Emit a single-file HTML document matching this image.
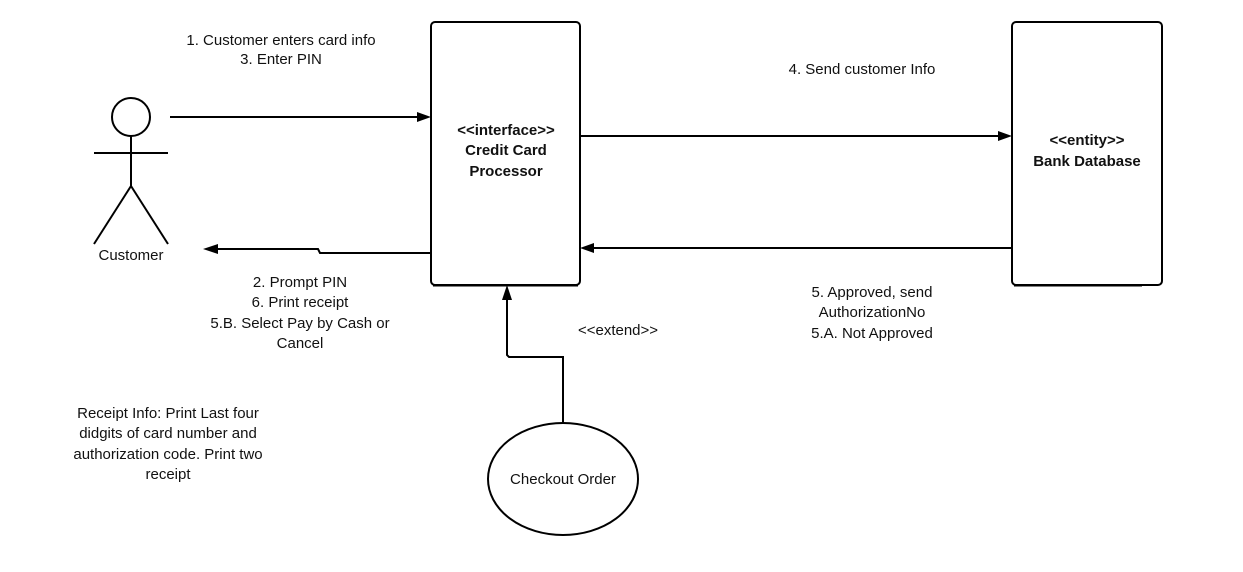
<!DOCTYPE html>
<html><head><meta charset="utf-8"><style>
body{margin:0;background:#fff}
svg text{font-family:"Liberation Sans",sans-serif;font-size:15px;fill:#111}
.b{font-weight:bold}
</style></head><body>
<svg width="1243" height="567" viewBox="0 0 1243 567" xmlns="http://www.w3.org/2000/svg">
<g fill="none" stroke="#000" stroke-width="2">
<circle cx="131" cy="117" r="19"/>
<line x1="131" y1="136" x2="131" y2="186"/>
<line x1="94" y1="153" x2="168" y2="153"/>
<line x1="131" y1="186" x2="94" y2="244"/>
<line x1="131" y1="186" x2="168" y2="244"/>
<rect x="431" y="22" width="149" height="263" rx="4"/>
<rect x="1012" y="22" width="150" height="263" rx="4"/>
<line x1="170" y1="117" x2="420" y2="117"/>
<polyline points="431,253 320,253 318,249 218,249"/>
<line x1="580" y1="136" x2="1000" y2="136"/>
<line x1="1012" y1="248" x2="592" y2="248"/>
<polyline points="563,423 563,357 509,357 507,355 507,298"/>
<ellipse cx="563" cy="479" rx="75" ry="56"/>
</g>
<line x1="433" y1="286" x2="578" y2="286" stroke="#000" stroke-width="1"/>
<line x1="1014" y1="286" x2="1142" y2="286" stroke="#000" stroke-width="1"/>
<g fill="#000">
<polygon points="431,117 417,112 417,122"/>
<polygon points="203,249 218,244 218,254"/>
<polygon points="1012,136 998,131 998,141"/>
<polygon points="580,248 594,243 594,253"/>
<polygon points="507,285 502,300 512,300"/>
</g>
<text x="131" y="260" text-anchor="middle">Customer</text>
<text x="281" y="45" text-anchor="middle">1. Customer enters card info</text>
<text x="281" y="64" text-anchor="middle">3. Enter PIN</text>
<text x="506" y="135" text-anchor="middle" class="b">&lt;&lt;interface&gt;&gt;</text>
<text x="506" y="155" text-anchor="middle" class="b">Credit Card</text>
<text x="506" y="176" text-anchor="middle" class="b">Processor</text>
<text x="1087" y="145" text-anchor="middle" class="b">&lt;&lt;entity&gt;&gt;</text>
<text x="1087" y="166" text-anchor="middle" class="b">Bank Database</text>
<text x="862" y="74" text-anchor="middle">4. Send customer Info</text>
<text x="300" y="287" text-anchor="middle">2. Prompt PIN</text>
<text x="300" y="307" text-anchor="middle">6. Print receipt</text>
<text x="300" y="328" text-anchor="middle">5.B. Select Pay by Cash or</text>
<text x="300" y="348" text-anchor="middle">Cancel</text>
<text x="618" y="335" text-anchor="middle">&lt;&lt;extend&gt;&gt;</text>
<text x="872" y="297" text-anchor="middle">5. Approved, send</text>
<text x="872" y="317" text-anchor="middle">AuthorizationNo</text>
<text x="872" y="338" text-anchor="middle">5.A. Not Approved</text>
<text x="168" y="418" text-anchor="middle">Receipt Info: Print Last four</text>
<text x="168" y="438" text-anchor="middle">didgits of card number and</text>
<text x="168" y="459" text-anchor="middle">authorization code. Print two</text>
<text x="168" y="479" text-anchor="middle">receipt</text>
<text x="563" y="484" text-anchor="middle">Checkout Order</text>
</svg>
</body></html>
